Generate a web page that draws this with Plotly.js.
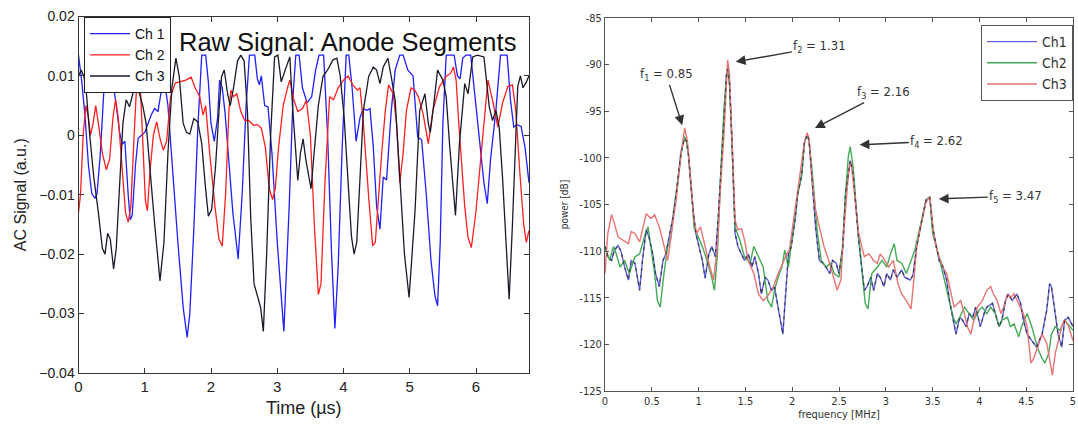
<!DOCTYPE html>
<html><head><meta charset="utf-8">
<script src="https://cdn.plot.ly/plotly-3.0.1.min.js"></script>
<style>html,body{margin:0;padding:0;background:#fff}#chart{width:1078px;height:432px}</style>
</head><body><div id="chart"></div>
<script>
// ---------- Left panel: raw signal (time in µs, signal in a.u.) ----------
const timeCh1 = [0,0.05,0.10,0.15,0.20,0.25,0.28,0.33,0.38,0.43,0.48,0.52,0.57,0.62,0.66,0.70,0.75,0.78,0.81,0.86,0.90,0.95,1.00,1.05,1.10,1.15,1.20,1.25,1.30,1.35,1.42,1.50,1.58,1.64,1.68,1.74,1.80,1.86,1.92,1.96,2.00,2.05,2.10,2.13,2.17,2.21,2.26,2.33,2.41,2.47,2.53,2.58,2.66,2.70,2.73,2.76,2.81,2.86,2.92,3.00,3.10,3.18,3.24,3.28,3.33,3.38,3.45,3.52,3.58,3.63,3.70,3.76,3.82,3.87,3.92,3.98,4.04,4.08,4.13,4.19,4.25,4.30,4.35,4.40,4.45,4.50,4.55,4.60,4.65,4.72,4.78,4.85,4.90,4.97,5.05,5.12,5.18,5.25,5.32,5.38,5.42,5.46,5.50,5.55,5.60,5.67,5.72,5.76,5.80,5.85,5.92,5.97,6.02,6.07,6.12,6.17,6.22,6.30,6.37,6.47,6.52,6.57,6.62,6.68,6.74,6.80];
const signalCh1 = [0.0135,0.009,0.003,-0.005,-0.0098,-0.0106,-0.0098,-0.003,0.007,0.0135,0.0135,0.009,0.005,0.0005,-0.0015,-0.001,-0.010,-0.0142,-0.0135,-0.005,-0.0005,0,0.0005,0.002,0.0035,0.0045,0.004,0.0075,0.009,0.005,-0.006,-0.018,-0.029,-0.034,-0.030,-0.016,0.001,0.0135,0.0135,0.009,0.002,-0.001,0.003,0.0093,0.008,0.004,-0.003,-0.013,-0.0208,-0.010,0.005,0.0135,0.0135,0.0095,0.0085,0.010,0.005,0.0048,-0.003,-0.018,-0.033,-0.012,0.007,0.0135,0.0135,0.008,0.0055,0.0065,0.011,0.0135,0.0135,0,-0.020,-0.0325,-0.022,-0.002,0.0135,0.0135,0.008,-0.001,0.003,0.0045,0.0042,0.0045,-0.002,-0.012,-0.0158,-0.007,-0.0075,0.004,0.011,0.0135,0.0135,0.011,0.010,-0.0003,-0.0008,-0.010,-0.021,-0.027,-0.0287,-0.018,0.002,0.0135,0.0135,0.0135,0.010,0.0095,0.013,0.0135,0.0135,0.008,0.0025,-0.0025,-0.008,-0.0115,-0.004,0.0042,0.0135,0.0135,0.006,0.0014,0.0018,0.0015,-0.002,-0.008];

const timeCh2 = [0.00,0.03,0.07,0.11,0.15,0.18,0.22,0.26,0.30,0.36,0.42,0.47,0.52,0.56,0.60,0.66,0.71,0.75,0.79,0.84,0.88,0.93,0.97,1.01,1.04,1.08,1.13,1.18,1.23,1.28,1.33,1.39,1.46,1.54,1.62,1.70,1.76,1.83,1.88,1.92,1.98,2.06,2.12,2.17,2.22,2.27,2.30,2.34,2.39,2.45,2.51,2.57,2.64,2.70,2.76,2.82,2.88,2.93,2.97,3.02,3.09,3.16,3.19,3.25,3.31,3.38,3.44,3.50,3.56,3.62,3.66,3.72,3.79,3.85,3.92,4.00,4.07,4.14,4.21,4.25,4.30,4.38,4.44,4.48,4.53,4.58,4.63,4.68,4.75,4.80,4.85,4.90,4.95,5.02,5.08,5.13,5.20,5.28,5.35,5.45,5.55,5.62,5.66,5.70,5.74,5.78,5.83,5.88,5.93,6.00,6.08,6.14,6.18,6.25,6.33,6.40,6.48,6.55,6.60,6.66,6.72,6.76,6.80];
const signalCh2 = [-0.013,-0.010,0,0.005,0.003,0,0.002,0.005,0.002,-0.003,-0.0058,-0.004,0.003,0.006,0.003,-0.006,-0.013,-0.0146,-0.012,0,0.009,0.009,0,-0.011,-0.0127,-0.006,0,0.0023,-0.0005,-0.0025,-0.001,0.0065,0.0088,0.009,0.0093,0.0098,0.008,0.0065,0.0034,0.005,-0.003,-0.012,-0.0175,-0.0186,-0.010,0.004,0.0076,0.0065,0.007,0.004,0.0025,0.0025,0.0017,0.0018,0.0012,-0.002,-0.009,-0.0108,-0.009,-0.002,0.005,0.0082,0.0093,0.006,0.004,0.0045,0.0059,0,-0.015,-0.0268,-0.025,-0.008,0.0065,0.006,0.008,0.0093,0.010,0.0085,0.0076,0.008,0.002,-0.0104,-0.0186,-0.018,-0.010,-0.0025,0.004,0.0085,0.007,0.002,-0.008,-0.003,0.0042,0.008,0.0075,0.0065,0.0037,-0.0014,0.0042,0.0082,0.0099,0.0105,0.0115,0.0093,0.002,-0.0042,-0.012,-0.0172,-0.0189,-0.0127,-0.0025,0.005,0.0093,0.0059,0.0014,0.0054,0.0082,0.0085,0.0042,-0.006,-0.015,-0.018,-0.016];

const timeCh3 = [0.00,0.04,0.08,0.12,0.17,0.23,0.30,0.36,0.40,0.44,0.48,0.53,0.57,0.62,0.67,0.72,0.77,0.82,0.87,0.92,0.97,1.02,1.08,1.15,1.23,1.29,1.35,1.41,1.47,1.52,1.58,1.63,1.68,1.74,1.80,1.86,1.91,1.96,2.01,2.07,2.12,2.16,2.20,2.25,2.29,2.34,2.40,2.45,2.50,2.55,2.60,2.65,2.70,2.75,2.79,2.84,2.90,2.96,3.01,3.06,3.12,3.19,3.23,3.27,3.31,3.35,3.39,3.43,3.47,3.51,3.56,3.62,3.69,3.76,3.84,3.90,3.95,4.01,4.07,4.12,4.16,4.20,4.25,4.30,4.38,4.45,4.50,4.55,4.60,4.67,4.72,4.78,4.85,4.92,4.99,5.04,5.08,5.15,5.23,5.28,5.31,5.36,5.42,5.50,5.55,5.60,5.65,5.69,5.75,5.83,5.88,5.95,6.02,6.12,6.20,6.25,6.30,6.35,6.40,6.45,6.50,6.55,6.58,6.63,6.67,6.71,6.76,6.80];
const signalCh3 = [0.010,0.011,0.010,0.007,0,-0.007,-0.013,-0.019,-0.020,-0.0165,-0.0175,-0.0225,-0.019,-0.008,0.002,0.006,0.0048,0.007,0.009,0.007,0.005,0.002,-0.006,-0.015,-0.0245,-0.018,-0.003,0.008,0.013,0.010,0.002,0.0005,0.0002,0.0028,0.0023,-0.0014,-0.008,-0.0136,-0.0125,-0.005,0.004,0.0099,0.011,0.007,0.005,0.008,0.0125,0.0135,0.0125,0.004,-0.014,-0.025,-0.027,-0.029,-0.033,-0.020,0,0.0132,0.0135,0.009,0.011,0.0132,0.005,-0.002,-0.0076,-0.003,-0.0006,-0.004,-0.0065,-0.009,-0.0025,0.005,0.0099,0.011,0.0127,0.013,0.010,0.003,-0.008,-0.017,-0.020,-0.018,-0.007,0.0042,0.0099,0.0115,0.011,0.0087,0.0115,0.013,0.0099,0.0059,-0.007,-0.020,-0.0273,-0.020,-0.0127,0.0042,0.007,0.002,0.0005,0.005,0.011,0.0093,0.0065,-0.0014,-0.009,-0.0135,-0.0014,0.0087,0.007,0.0132,0.0135,0.0132,0.0048,0.0025,0.0042,0.0014,-0.007,-0.018,-0.0276,-0.015,-0.007,0.0082,0.010,0.008,0.009,0.010];

const rawNames = ['Ch 1','Ch 2','Ch 3'];
const rawColors = ['#1f1fff','#ff1f1f','#1a1a2a'];

// ---------- Right panel: power spectra [frequency MHz, power dB] ----------
const specCh1 = [[0,-109.5],[0.03,-110.6],[0.07,-111],[0.10,-109.9],[0.14,-109.4],[0.17,-110],[0.21,-111.7],[0.25,-113.1],[0.28,-111],[0.32,-111.3],[0.37,-114.2],[0.40,-111],[0.44,-107.7],[0.47,-108.5],[0.51,-110.3],[0.54,-112.4],[0.58,-113.8],[0.62,-111],[0.65,-110.3],[0.68,-108.8],[0.72,-106.7],[0.77,-103.1],[0.81,-99.5],[0.85,-97.9],[0.87,-98.2],[0.89,-99.5],[0.93,-104.5],[0.97,-108.1],[1.00,-109.5],[1.04,-111],[1.07,-112.9],[1.11,-110.3],[1.14,-109.5],[1.18,-110.6],[1.21,-106.3],[1.24,-101],[1.27,-95],[1.30,-90.8],[1.31,-90.5],[1.33,-92],[1.36,-99],[1.39,-108.1],[1.42,-109.5],[1.46,-110.3],[1.49,-111],[1.53,-110.3],[1.57,-111.7],[1.60,-110.6],[1.64,-112.4],[1.67,-114.6],[1.71,-112.8],[1.74,-113.1],[1.78,-114.2],[1.81,-113.8],[1.85,-116],[1.89,-118.1],[1.90,-118.9],[1.93,-114.6],[1.96,-110.3],[1.99,-109.5],[2.03,-106.7],[2.06,-103.8],[2.10,-102],[2.13,-98.4],[2.16,-97.5],[2.18,-98.1],[2.22,-103.8],[2.25,-107.4],[2.29,-111],[2.33,-111.3],[2.36,-111.7],[2.40,-112.4],[2.43,-111],[2.47,-111.3],[2.50,-112.4],[2.54,-109.5],[2.57,-103.8],[2.61,-100.5],[2.62,-100.3],[2.65,-101.5],[2.68,-105.2],[2.71,-108.8],[2.75,-112.4],[2.77,-114.2],[2.80,-113.8],[2.84,-112.8],[2.87,-114.2],[2.91,-112.4],[2.94,-112.8],[2.98,-113.8],[3.01,-112.4],[3.05,-113.1],[3.08,-112],[3.12,-112.8],[3.17,-112],[3.20,-112.8],[3.26,-113.1],[3.29,-112.6],[3.33,-109.5],[3.36,-108.1],[3.40,-106],[3.43,-104.5],[3.47,-104.2],[3.50,-107.4],[3.54,-109.5],[3.57,-111],[3.61,-111.7],[3.65,-113.1],[3.68,-115.3],[3.72,-117.4],[3.75,-118.9],[3.79,-117.1],[3.82,-117.4],[3.86,-118.1],[3.89,-116.7],[3.93,-117.1],[3.96,-116],[4.01,-118.1],[4.05,-116.7],[4.08,-116],[4.14,-115.6],[4.17,-116.7],[4.21,-118.1],[4.24,-117.4],[4.28,-115.3],[4.31,-114.6],[4.35,-115.3],[4.40,-114.6],[4.44,-115.6],[4.47,-117.4],[4.51,-118.9],[4.56,-119.6],[4.61,-120.3],[4.67,-118.9],[4.72,-116.3],[4.75,-113.5],[4.77,-113.8],[4.81,-116.7],[4.84,-118.9],[4.88,-120.3],[4.91,-117.4],[4.95,-117.1],[5.00,-118.1]];

const specCh2 = [[0,-109.5],[0.05,-111],[0.09,-109.5],[0.12,-110.3],[0.16,-111.7],[0.21,-111],[0.26,-112.4],[0.32,-110.6],[0.37,-110.3],[0.42,-108.5],[0.46,-107.4],[0.49,-109.5],[0.53,-112.4],[0.56,-115.3],[0.59,-116],[0.63,-112.4],[0.67,-109.5],[0.70,-108.8],[0.74,-105.5],[0.78,-102.5],[0.82,-99],[0.85,-97.7],[0.87,-98.2],[0.89,-99.5],[0.93,-104],[0.95,-107.4],[0.99,-108.4],[1.04,-109.5],[1.09,-111],[1.14,-112.8],[1.17,-114.2],[1.20,-110.5],[1.24,-101],[1.27,-95],[1.30,-90.8],[1.31,-90.3],[1.33,-92],[1.36,-99],[1.39,-107.4],[1.44,-108.8],[1.49,-110.6],[1.55,-111.3],[1.59,-109.5],[1.64,-110.6],[1.69,-111.7],[1.74,-115.3],[1.78,-116],[1.81,-114.2],[1.85,-112.8],[1.89,-111.7],[1.92,-109.9],[1.96,-111.7],[1.99,-109.5],[2.03,-106.5],[2.06,-103.8],[2.10,-101.8],[2.13,-98.4],[2.16,-97.5],[2.18,-98.2],[2.21,-101],[2.24,-104.5],[2.27,-108.1],[2.31,-111],[2.36,-111.7],[2.41,-111.3],[2.45,-112.4],[2.50,-112.8],[2.54,-109.5],[2.57,-103.8],[2.60,-99.8],[2.62,-98.8],[2.65,-100.9],[2.70,-107.4],[2.75,-112.8],[2.78,-115.6],[2.81,-116.2],[2.85,-112.4],[2.91,-111.7],[2.96,-111],[3.01,-111.7],[3.05,-110.3],[3.09,-109.2],[3.12,-111],[3.17,-111.3],[3.22,-112.4],[3.27,-111],[3.31,-109.9],[3.35,-108.1],[3.40,-106],[3.43,-104.5],[3.47,-104.2],[3.50,-108.1],[3.56,-110.3],[3.61,-112.4],[3.66,-114.6],[3.72,-117.1],[3.75,-117.8],[3.79,-117.1],[3.84,-116],[3.89,-116.7],[3.94,-117.4],[4.00,-116.3],[4.03,-116],[4.08,-116.7],[4.12,-116],[4.17,-116.7],[4.21,-118.1],[4.24,-117.4],[4.30,-117.1],[4.33,-118.1],[4.37,-117.8],[4.42,-119.2],[4.45,-118.1],[4.51,-116.7],[4.56,-118.1],[4.60,-119.6],[4.63,-120.6],[4.67,-121.5],[4.70,-122],[4.74,-121],[4.77,-118.9],[4.81,-118.1],[4.86,-118.5],[4.91,-117.4],[4.97,-118.1],[5.00,-118.5]];

const specCh3 = [[0,-112.4],[0.03,-108.1],[0.07,-106.1],[0.10,-107],[0.14,-108.5],[0.19,-108.8],[0.25,-109.2],[0.28,-107.9],[0.32,-108.1],[0.37,-109],[0.40,-107.7],[0.44,-106],[0.49,-106.5],[0.53,-106.1],[0.58,-107.4],[0.63,-109.5],[0.67,-111],[0.70,-108.8],[0.76,-104.5],[0.81,-99.9],[0.85,-96.8],[0.88,-98.1],[0.91,-101.6],[0.95,-106.7],[0.98,-108.1],[1.02,-107.4],[1.07,-109.5],[1.12,-111.7],[1.16,-113.1],[1.20,-109.5],[1.23,-103.8],[1.27,-97.7],[1.30,-91.6],[1.31,-89.5],[1.33,-91],[1.35,-96],[1.39,-106.7],[1.42,-107.7],[1.46,-107.6],[1.49,-108.8],[1.53,-111],[1.59,-112.4],[1.64,-114.6],[1.69,-115.3],[1.74,-114.8],[1.80,-113.8],[1.85,-112.4],[1.90,-111.3],[1.94,-110.3],[1.97,-109.9],[2.01,-107],[2.05,-104],[2.09,-101.5],[2.13,-98.4],[2.16,-97.3],[2.18,-98],[2.22,-103.1],[2.25,-105.6],[2.29,-107.4],[2.34,-109.5],[2.40,-111.3],[2.45,-113.1],[2.48,-114.2],[2.52,-113.1],[2.55,-108.1],[2.59,-103],[2.61,-101],[2.63,-100.5],[2.66,-103.1],[2.71,-108.1],[2.77,-110.6],[2.82,-110.3],[2.87,-111],[2.91,-111.3],[2.94,-110.3],[2.99,-111],[3.03,-111.7],[3.08,-111],[3.13,-113.5],[3.17,-114.6],[3.22,-115.3],[3.27,-116.2],[3.30,-113],[3.33,-109.5],[3.36,-108],[3.40,-106],[3.43,-104.7],[3.47,-104.2],[3.52,-108.8],[3.56,-110.3],[3.61,-111.7],[3.65,-112.4],[3.70,-114.6],[3.73,-116],[3.77,-115.6],[3.80,-115.3],[3.84,-116.7],[3.87,-118.1],[3.91,-118.9],[3.94,-117.4],[3.98,-116],[4.03,-115.3],[4.08,-114.2],[4.12,-113.8],[4.15,-114.6],[4.19,-115.3],[4.23,-116.7],[4.26,-116],[4.30,-114.6],[4.33,-115],[4.37,-114.6],[4.42,-115.6],[4.47,-116.7],[4.51,-118.1],[4.55,-122],[4.58,-121.5],[4.61,-120.6],[4.67,-118.9],[4.72,-119.9],[4.75,-121.7],[4.78,-123.3],[4.81,-121],[4.84,-119.6],[4.88,-118.1],[4.91,-117.4],[4.95,-118],[5.00,-119.6]];

const specNames = ['Ch1','Ch2','Ch3'];
const specColors = ['#6464e0','#45aa58','#e87474'];

const peakLabels = ['f<sub>1</sub> = 0.85','f<sub>2</sub> = 1.31','f<sub>3</sub> = 2.16','f<sub>4</sub> = 2.62','f<sub>5</sub> = 3.47'];

const yTickVals2 = [-85,-90,-95,-100,-105,-110,-115,-120,-125];
const yTickText2 = ['-85','-90','-95','-100','-105','-110','-115','-120','-125'];

// ---------- traces ----------
const rawTimes = [timeCh1,timeCh2,timeCh3];
const rawSignals = [signalCh1,signalCh2,signalCh3];
const traces = [];
for (let i=0;i<3;i++){
  traces.push({x:rawTimes[i], y:rawSignals[i], type:'scatter', mode:'lines', name:rawNames[i],
    line:{color:rawColors[i], width:1.3}, xaxis:'x', yaxis:'y', legend:'legend'});
}
const specs = [specCh1,specCh2,specCh3];
for (let i=0;i<3;i++){
  traces.push({x:specs[i].map(p=>p[0]), y:specs[i].map(p=>p[1]), type:'scatter', mode:'lines', name:specNames[i],
    line:{color:specColors[i], width:1.4}, xaxis:'x2', yaxis:'y2', legend:'legend2'});
}
// dark dashed overlay that runs along the Ch1 spectrum
traces.push({x:specCh1.map(p=>p[0]), y:specCh1.map(p=>p[1]), type:'scatter', mode:'lines', showlegend:false,
  line:{color:'rgba(35,35,45,0.7)', width:1.3, dash:'3px,4px'}, xaxis:'x2', yaxis:'y2', hoverinfo:'skip'});

const W=1078, H=432;
const leftFont = 'Liberation Sans, Arial, sans-serif';
const rightFont = 'Liberation Sans Narrow, DejaVu Sans Condensed, Arial Narrow, sans-serif';

const arrowDefs = [
  {x:0.825, y:-96.5, ax:0.656, ay:-91.1},
  {x:1.397, y:-89.7, ax:2.296, ay:-88.1},
  {x:2.243, y:-96.8, ax:2.974, ay:-93.0},
  {x:2.72,  y:-98.6, ax:3.545, ay:-98.2},
  {x:3.566, y:-104.4, ax:4.39, ay:-104.1}
];
const annotations = arrowDefs.map((a,i)=>({
  xref:'x2', yref:'y2', axref:'x2', ayref:'y2', x:a.x, y:a.y, ax:a.ax, ay:a.ay,
  text:peakLabels[i], showarrow:true, arrowhead:2, arrowsize:1.4, arrowwidth:1.4, arrowcolor:'#333',
  font:{family:rightFont, size:13, color:'#333'}
}));
annotations.push({xref:'paper', yref:'paper', x:347/W, y:1-42/H, xanchor:'center', yanchor:'middle',
  text:'Raw Signal: Anode Segments', showarrow:false, font:{family:leftFont, size:25.5, color:'#111'}});

const layout = {
  width:W, height:H, margin:{l:0,r:0,t:0,b:0}, paper_bgcolor:'#fff', plot_bgcolor:'#fff',
  showlegend:true,
  xaxis:{domain:[78.5/W, 529/W], range:[0,6.8], tickvals:[0,1,2,3,4,5,6], ticks:'inside', ticklen:5,
    showline:true, mirror:'ticks', linecolor:'#333', linewidth:1, tickcolor:'#333', zeroline:false, showgrid:false,
    tickfont:{family:leftFont, size:15, color:'#222'},
    title:{text:'Time (\u00b5s)', font:{family:leftFont, size:18, color:'#222'}, standoff:7}},
  yaxis:{domain:[59/H, 415.5/H], range:[-0.04,0.02], dtick:0.01, ticks:'inside', ticklen:5,
    showline:true, mirror:'ticks', linecolor:'#333', linewidth:1, tickcolor:'#333', zeroline:false, showgrid:false,
    tickfont:{family:leftFont, size:14, color:'#222'},
    title:{text:'AC Signal (a.u.)', font:{family:leftFont, size:16, color:'#222'}, standoff:8}},
  xaxis2:{domain:[605/W, 1073/W], range:[0,5], dtick:0.5, anchor:'y2', ticks:'inside', ticklen:4,
    showline:true, mirror:'ticks', linecolor:'#555', linewidth:1, tickcolor:'#555', zeroline:false, showgrid:false,
    tickfont:{family:rightFont, size:11, color:'#333'},
    title:{text:'frequency [MHz]', font:{family:rightFont, size:11, color:'#333'}, standoff:2}},
  yaxis2:{domain:[41/H, 414/H], range:[-125,-85], anchor:'x2', tickvals:yTickVals2, ticktext:yTickText2, ticks:'inside', ticklen:4,
    showline:true, mirror:'ticks', linecolor:'#555', linewidth:1, tickcolor:'#555', zeroline:false, showgrid:false,
    tickfont:{family:rightFont, size:11, color:'#333'},
    title:{text:'power [dB]', font:{family:rightFont, size:10, color:'#333'}, standoff:8}},
  legend:{x:84/W, y:1-17/H, xanchor:'left', yanchor:'top', bgcolor:'#fff', bordercolor:'#222', borderwidth:1,
    itemwidth:40, font:{family:leftFont, size:14, color:'#111'}, tracegroupgap:0},
  legend2:{x:981/W, y:1-25/H, xanchor:'left', yanchor:'top', bgcolor:'#fff', bordercolor:'#555', borderwidth:1,
    itemwidth:50, font:{family:rightFont, size:14, color:'#333'}, tracegroupgap:0},
  annotations:annotations
};
Plotly.newPlot('chart', traces, layout, {staticPlot:true, displayModeBar:false});
</script></body></html>
